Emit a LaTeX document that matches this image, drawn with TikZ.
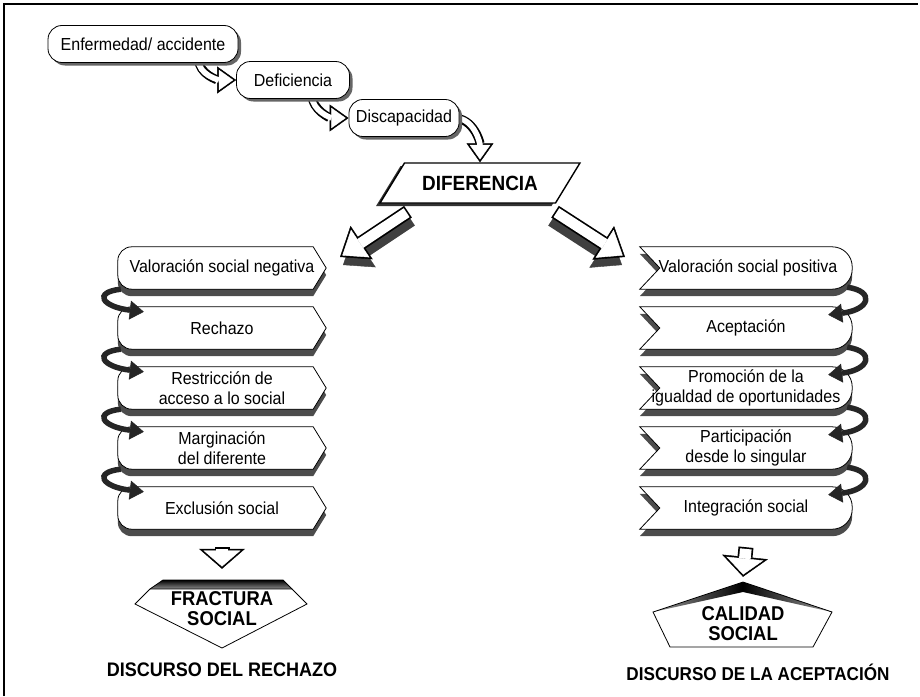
\documentclass[tikz,border=0pt]{standalone}
\usepackage{fontspec}
\setmainfont{Liberation Sans}[FakeStretch=0.92]
\usetikzlibrary{arrows.meta,shapes.geometric,shadows}
\pgfdeclarelayer{background}
\pgfsetlayers{background,main}
\tikzset{
  stepnode/.style={draw, fill=white, rounded corners=14pt, minimum height=37pt, inner xsep=7pt,
    line width=0.8pt, font=\fontsize{17.4}{20}\selectfont,
    drop shadow={shadow xshift=3pt, shadow yshift=-3pt, fill=black!60, opacity=1}},
  colnode/.style={minimum width=208pt, minimum height=42pt, inner sep=0pt, align=center,
    font=\fontsize{17.4}{19.5}\selectfont},
  bignode/.style={minimum height=60pt, inner sep=0pt, align=center,
    font=\bfseries\fontsize{20}{20}\selectfont},
  slab/.style={draw, fill=white, line width=0.8pt},
  slabshadow/.style={fill=black!70},
  curl/.style={line width=5.5pt, black!85,
    -{Triangle[length=14pt 0 0, width=19pt 0 0, line width=0.4pt 0 0]}},
  outerbend/.style={line width=9pt,
    -{Triangle[length=19pt 0 0, width=27pt 0 0, line width=0.4pt 0 0]}},
  innerbend/.style={line width=5.6pt, white, shorten <=1.7pt, shorten >=2.9pt,
    -{Triangle[length=14.4pt 0 0, width=20.4pt 0 0, line width=0.4pt 0 0]}},
  outerdiag/.style={line width=14pt,
    -{Triangle[length=26pt 0 0, width=40pt 0 0, line width=0.4pt 0 0]}},
  shadowdiag/.style={outerdiag, black!75},
  innerdiag/.style={line width=10.6pt, white, shorten <=1.7pt, shorten >=2.8pt,
    -{Triangle[length=21.5pt 0 0, width=33.1pt 0 0, line width=0.4pt 0 0]}},
  outerdown/.style={line width=15pt,
    -{Triangle[length=20pt 0 0, width=46pt 0 0, line width=0.4pt 0 0]}},
  innerdown/.style={line width=11.6pt, white, shorten <=1.7pt, shorten >=2.3pt,
    -{Triangle[length=16pt 0 0, width=37pt 0 0, line width=0.4pt 0 0]}},
}
% slab outlines behind the column nodes: node, vertical offset, style
\newcommand{\negslab}[3]{%
  \path[#3] ([xshift=-13pt,yshift=#2]#1.north east) -- ([yshift=#2]#1.east)
    -- ([xshift=-13pt,yshift=#2]#1.south east) -- ([xshift=14pt,yshift=#2]#1.south west)
    arc[start angle=270, end angle=180, radius=14pt]
    -- ([yshift=#2-14pt]#1.north west)
    arc[start angle=180, end angle=90, radius=14pt] -- cycle;}
\newcommand{\posslab}[3]{%
  \path[#3] ([yshift=#2]#1.north west) -- ([xshift=20pt,yshift=#2]#1.west)
    -- ([yshift=#2]#1.south west) -- ([xshift=-20pt,yshift=#2]#1.south east)
    arc[start angle=-90, end angle=0, radius=20pt]
    -- ([yshift=#2-20pt]#1.north east)
    arc[start angle=0, end angle=90, radius=20pt] -- cycle;}

\begin{document}
\begin{tikzpicture}[x=1pt,y=1pt]
\useasboundingbox (0,0) rectangle (920,-696);
\draw[line width=1.2pt] (4,-696) -- (4,-4) -- (918,-4);

% chain at the top
\node[stepnode, minimum width=190pt] (enf) at (143,-44) {Enfermedad/ accidente};
\node[stepnode, minimum width=113pt] (def) at (293,-80) {Deficiencia};
\node[stepnode, minimum width=108pt] (dis) at (404,-118) {Discapacidad};
\node[trapezium, trapezium left angle=47, trapezium right angle=133, trapezium stretches=true,
  minimum width=200pt, minimum height=40pt, draw, fill=white, line width=1.4pt,
  font=\bfseries\fontsize{20.6}{22}\selectfont,
  drop shadow={shadow xshift=-4pt, shadow yshift=-3pt, fill=black!80, opacity=1}]
  (dif) at (480,-183) {DIFERENCIA};

\begin{pgfonlayer}{background}
\draw[outerbend] ([xshift=-40pt,yshift=5pt]enf.south east) to[out=-90,in=180] (def.west);
\draw[innerbend] ([xshift=-40pt,yshift=5pt]enf.south east) to[out=-90,in=180] (def.west);
\draw[outerbend] ([xshift=-38pt,yshift=5pt]def.south east) to[out=-90,in=180] (dis.west);
\draw[innerbend] ([xshift=-38pt,yshift=5pt]def.south east) to[out=-90,in=180] (dis.west);
\draw[outerbend] ([xshift=-6pt]dis.east) to[out=0,in=90] (dif.north);
\draw[innerbend] ([xshift=-6pt]dis.east) to[out=0,in=90] (dif.north);
\end{pgfonlayer}

% two discourses
\node[colnode] (l1) at (222,-268) {Valoración social negativa};
\node[colnode] (l2) at (222,-328) {Rechazo};
\node[colnode] (l3) at (222,-388) {Restricción de\\acceso a lo social};
\node[colnode] (l4) at (222,-448) {Marginación\\del diferente};
\node[colnode] (l5) at (222,-508) {Exclusión social};
\node[colnode, minimum width=212pt] (r1) at (746,-268) {\hspace*{4pt}Valoración social positiva};
\node[colnode, minimum width=212pt] (r2) at (746,-328) {Aceptación};
\node[colnode, minimum width=212pt] (r3) at (746,-388) {Promoción de la\\igualdad de oportunidades};
\node[colnode, minimum width=212pt] (r4) at (746,-448) {Participación\\desde lo singular};
\node[colnode, minimum width=212pt] (r5) at (746,-508) {Integración social};

\begin{pgfonlayer}{background}
\foreach \i in {1,...,5}{
  \negslab{l\i}{-7pt}{slabshadow}
  \negslab{l\i}{0pt}{slab}
  \posslab{r\i}{-7pt}{slabshadow}
  \posslab{r\i}{0pt}{slab}
}
\end{pgfonlayer}

\foreach \i/\j in {1/2,2/3,3/4,4/5}{
  \draw[curl] ([xshift=3pt]l\i.south west) .. controls +(-28,-3) and +(-42,5) .. ([xshift=26pt,yshift=-5pt]l\j.north west);
  \draw[curl] ([xshift=-5pt,yshift=2pt]r\i.south east) .. controls +(28,-4) and +(42,5) .. ([xshift=-24pt,yshift=-8pt]r\j.north east);
}

% split after the difference
\coordinate (ltip) at (340,-257);
\coordinate (rtip) at (625,-257);
\draw[shadowdiag] ([xshift=-69pt,yshift=-16pt]dif.south) -- ([xshift=3pt,yshift=-8pt]ltip);
\draw[outerdiag] ([xshift=-72pt,yshift=-8pt]dif.south) -- (ltip);
\draw[innerdiag] ([xshift=-72pt,yshift=-8pt]dif.south) -- (ltip);
\draw[shadowdiag] ([xshift=72pt,yshift=-16pt]dif.south) -- ([xshift=-3pt,yshift=-8pt]rtip);
\draw[outerdiag] ([xshift=75pt,yshift=-8pt]dif.south) -- (rtip);
\draw[innerdiag] ([xshift=75pt,yshift=-8pt]dif.south) -- (rtip);

% results
\node[bignode, minimum width=170pt] (frac) at (222,-609) {FRACTURA\\SOCIAL};
\node[bignode, minimum width=170pt] (cal) at (743,-624) {CALIDAD\\SOCIAL};
\begin{pgfonlayer}{background}
\begin{scope}[shift={(frac.center)}]
\shade[top color=black, bottom color=black!45] (-59,29) -- (61,29) -- (70,20) -- (-72,20) -- cycle;
\draw[line width=0.8pt, fill=white] (-72,20) -- (70,20) -- (85,5) -- (0,-39) -- (-87,5) -- cycle;
\draw[line width=0.8pt] (-72,20) -- (-59,29) -- (61,29) -- (70,20);
\end{scope}
\begin{scope}[shift={(cal.center)}]
\shade[left color=black!40, right color=black!40, middle color=black] (-90,12) -- (0,42) -- (89,12) -- (0,32) -- cycle;
\draw[line width=0.8pt] (-90,12) -- (0,42) -- (89,12) -- (70,-23) -- (-73,-23) -- cycle;
\end{scope}
\end{pgfonlayer}

\draw[outerdown] ([yshift=-18pt]l5.south) -- ([yshift=10pt]frac.north);
\draw[innerdown] ([yshift=-18pt]l5.south) -- ([yshift=10pt]frac.north);
\draw[outerdown] ([yshift=-18pt]r5.south) -- ([yshift=17pt]cal.north);
\draw[innerdown] ([yshift=-18pt]r5.south) -- ([yshift=17pt]cal.north);

\node[font=\bfseries\fontsize{19.6}{21}\selectfont] (rech) at (222,-670) {DISCURSO DEL RECHAZO};
\node[font=\bfseries\fontsize{18.6}{21}\selectfont] (acep) at (758,-672) {DISCURSO DE LA ACEPTACIÓN};
\end{tikzpicture}
\end{document}
